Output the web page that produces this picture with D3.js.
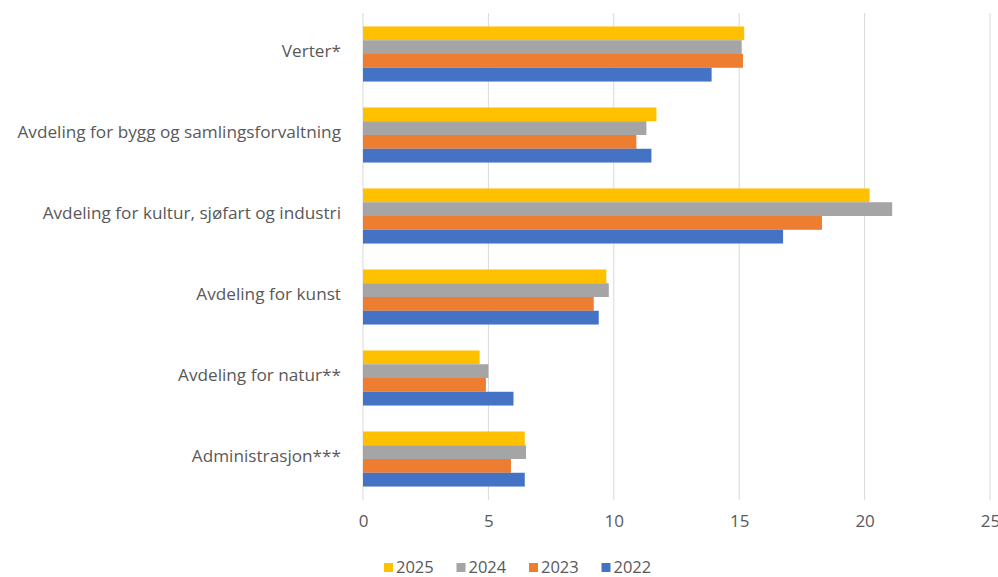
<!DOCTYPE html>
<html>
<head>
<meta charset="utf-8">
<script src="https://cdn.jsdelivr.net/npm/d3@7"></script>
<style>
  body { margin: 0; background: #fff; }
  text { font-family: "Open Sans", sans-serif; fill: #595959; }
</style>
</head>
<body>
<svg width="998" height="577"></svg>
<script>
const categories = [
  "Verter*",
  "Avdeling for bygg og samlingsforvaltning",
  "Avdeling for kultur, sjøfart og industri",
  "Avdeling for kunst",
  "Avdeling for natur**",
  "Administrasjon***"
];
const years = ["2025", "2024", "2023", "2022"];
const v2025 = [15.2, 11.7, 20.2, 9.7, 4.65, 6.45];
const v2024 = [15.1, 11.3, 21.1, 9.8, 5.0, 6.5];
const v2023 = [15.15, 10.9, 18.3, 9.2, 4.9, 5.9];
const v2022 = [13.9, 11.5, 16.75, 9.4, 6.0, 6.45];
const xTicks = [0, 5, 10, 15, 20, 25];
const colors = ["#FFC000", "#A5A5A5", "#ED7D31", "#4472C4"];

const series = [v2025, v2024, v2023, v2022];

const svg = d3.select('svg');

const x = d3.scaleLinear().domain([0, 25]).range([363, 990]);
const y = d3.scaleBand().domain(categories).range([13.5, 499.5]).paddingInner(0.32).paddingOuter(0.16);
const yInner = d3.scaleBand().domain(years).range([0, y.bandwidth()]);

// gridlines
svg.append('g')
  .selectAll('line')
  .data(xTicks)
  .enter()
  .append('line')
  .attr('x1', d => x(d))
  .attr('x2', d => x(d))
  .attr('y1', 13)
  .attr('y2', 500)
  .attr('stroke', '#D9D9D9')
  .attr('stroke-width', 1);

// bars
const groups = svg.append('g')
  .selectAll('g')
  .data(categories)
  .enter()
  .append('g')
  .attr('transform', d => `translate(0,${y(d)})`);

groups.selectAll('rect')
  .data((d, i) => years.map((yr, j) => ({ yr, value: series[j][i], color: colors[j] })))
  .enter()
  .append('rect')
  .attr('x', x(0))
  .attr('y', d => yInner(d.yr))
  .attr('width', d => x(d.value) - x(0))
  .attr('height', yInner.bandwidth())
  .attr('fill', d => d.color);

// category labels
svg.append('g')
  .selectAll('text')
  .data(categories)
  .enter()
  .append('text')
  .attr('x', 341)
  .attr('y', d => y(d) + y.bandwidth() / 2 - 3)
  .attr('dy', '0.35em')
  .attr('text-anchor', 'end')
  .style('font-size', '17.2px')
  .text(d => d);

// x tick labels (the last one is clipped by the edge, as in the original)
const xAxis = svg.append('g')
  .attr('transform', 'translate(0,500)')
  .call(d3.axisBottom(x).tickValues(xTicks).tickSize(0).tickPadding(15));
xAxis.select('.domain').remove();
xAxis.selectAll('text')
  .style('font-size', '17px')
  .attr('fill', '#595959')
  .style('font-family', '"Open Sans", sans-serif');

// legend
const legend = svg.append('g')
  .selectAll('g')
  .data(years)
  .enter()
  .append('g')
  .attr('transform', (d, i) => `translate(${384 + i * 72.5},567)`);

legend.append('rect')
  .attr('x', 0)
  .attr('y', -4)
  .attr('width', 9)
  .attr('height', 9)
  .attr('fill', (d, i) => colors[i]);

legend.append('text')
  .attr('x', 12)
  .attr('y', 0)
  .attr('dy', '0.35em')
  .style('font-size', '16.5px')
  .text(d => d);
</script>
</body>
</html>
